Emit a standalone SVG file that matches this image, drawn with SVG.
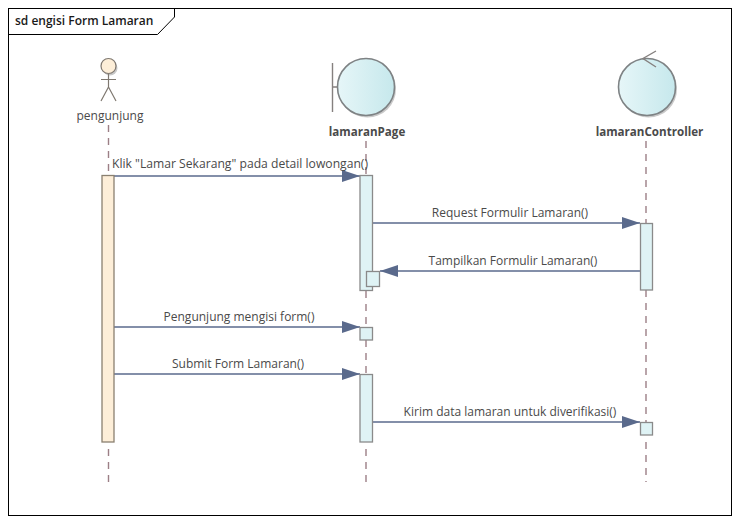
<svg xmlns="http://www.w3.org/2000/svg" width="739" height="523" viewBox="0 0 739 523">
<style>
text{font-family:"Open Sans","Noto Sans",sans-serif;font-size:12px;fill:#4a4a4a}
.b{font-weight:700;text-anchor:middle;font-size:11.600px}
.m{text-anchor:middle}
.life{stroke:#9c7f86;stroke-width:1.4;stroke-dasharray:7 6;fill:none}
.msg{stroke:#5a6a8c;stroke-width:1.3;fill:none;marker-end:url(#arr)}
.act{fill:#dff3f5;stroke:#8a8a8a;stroke-width:1.3}
.actor{fill:none;stroke:#7f7870;stroke-width:1.2}
.shape{fill:url(#g);stroke:#7e8284;stroke-width:1.6}
.shadow{fill:#c9c9c9}
.sym{fill:none;stroke:#85807f;stroke-width:1.4}
</style>
<defs>
<linearGradient id="g" x1="0" x2="1" y1="0" y2="0"><stop offset="0" stop-color="#e6f6f8"/><stop offset="1" stop-color="#c6e8ec"/></linearGradient>
<marker id="arr" markerUnits="userSpaceOnUse" markerWidth="19" markerHeight="12" refX="18" refY="6" orient="auto"><path d="M0 0L18 6L0 12Z" fill="#5a6a8c"/></marker>
</defs>
<rect width="739" height="523" fill="#fff"/>
<g id="frame">
<rect x="8.500" y="8.500" width="723" height="507" fill="#fff" stroke="#000" stroke-width="1"/>
<path d="M8.500 34.500H157.500L174.500 17V8.500" fill="none" stroke="#000" stroke-width="1"/>
<text x="15" y="25" style="font-weight:600;fill:#1a1a1a">sd engisi Form Lamaran</text>
</g>
<g id="connectors">
<path class="life" d="M108.500 125V175M108.500 449V482"/>
<path class="life" d="M366 141V175M366 291V327M366 340V374M366 449V482"/>
<path class="life" d="M646 141V223M646 290V422M646 442V482"/>
<path class="msg" d="M114 176H360"/>
<path class="msg" d="M372 223H640"/>
<path class="msg" d="M640 271H380"/>
<path class="msg" d="M114 327H360"/>
<path class="msg" d="M114 374H360"/>
<path class="msg" d="M372 422H640"/>
<text x="112" y="168" style="font-size:12.150px">Klik "Lamar Sekarang" pada detail lowongan()</text>
<text x="510" y="217" class="m">Request Formulir Lamaran()</text>
<text x="513" y="265" class="m">Tampilkan Formulir Lamaran()</text>
<text x="239" y="321" class="m">Pengunjung mengisi form()</text>
<text x="238" y="368" class="m">Submit Form Lamaran()</text>
<text x="510" y="416" class="m">Kirim data lamaran untuk diverifikasi()</text>
</g>
<g id="pengunjung">
<circle cx="110" cy="68" r="7.500" class="shadow"/>
<circle cx="108.500" cy="66" r="7.500" fill="#fdeed8" stroke="#7f7870" stroke-width="1.200"/>
<path class="actor" d="M108.500 74V87M101 79.500H116M101 101L108.500 87L116 101"/>
<text x="110" y="120" class="m">pengunjung</text>
<rect x="102" y="175.500" width="12" height="266.500" fill="#fdeed8" stroke="#8a8070" stroke-width="1.300"/>
</g>
<g id="lamaranPage">
<circle cx="367.500" cy="89" r="28.500" class="shadow"/>
<circle cx="366" cy="87" r="28.500" class="shape"/>
<path class="sym" d="M332.500 63V112M332.500 87H337"/>
<text x="367" y="136" class="b">lamaranPage</text>
<rect x="360" y="175.500" width="12.500" height="115" class="act"/>
<rect x="366.500" y="271.500" width="13" height="15" class="act"/>
<rect x="360" y="327.500" width="12.500" height="12.500" class="act"/>
<rect x="360" y="374.500" width="12.500" height="67.500" class="act"/>
</g>
<g id="lamaranController">
<circle cx="648.500" cy="89" r="28.500" class="shadow"/>
<circle cx="647" cy="87" r="28.500" class="shape"/>
<path class="sym" d="M656 51L643 58.500L656 67"/>
<text x="649.500" y="136" class="b">lamaranController</text>
<rect x="640.500" y="223.500" width="12" height="66.500" class="act"/>
<rect x="640.500" y="422.500" width="12" height="12.500" class="act"/>
</g>
</svg>
